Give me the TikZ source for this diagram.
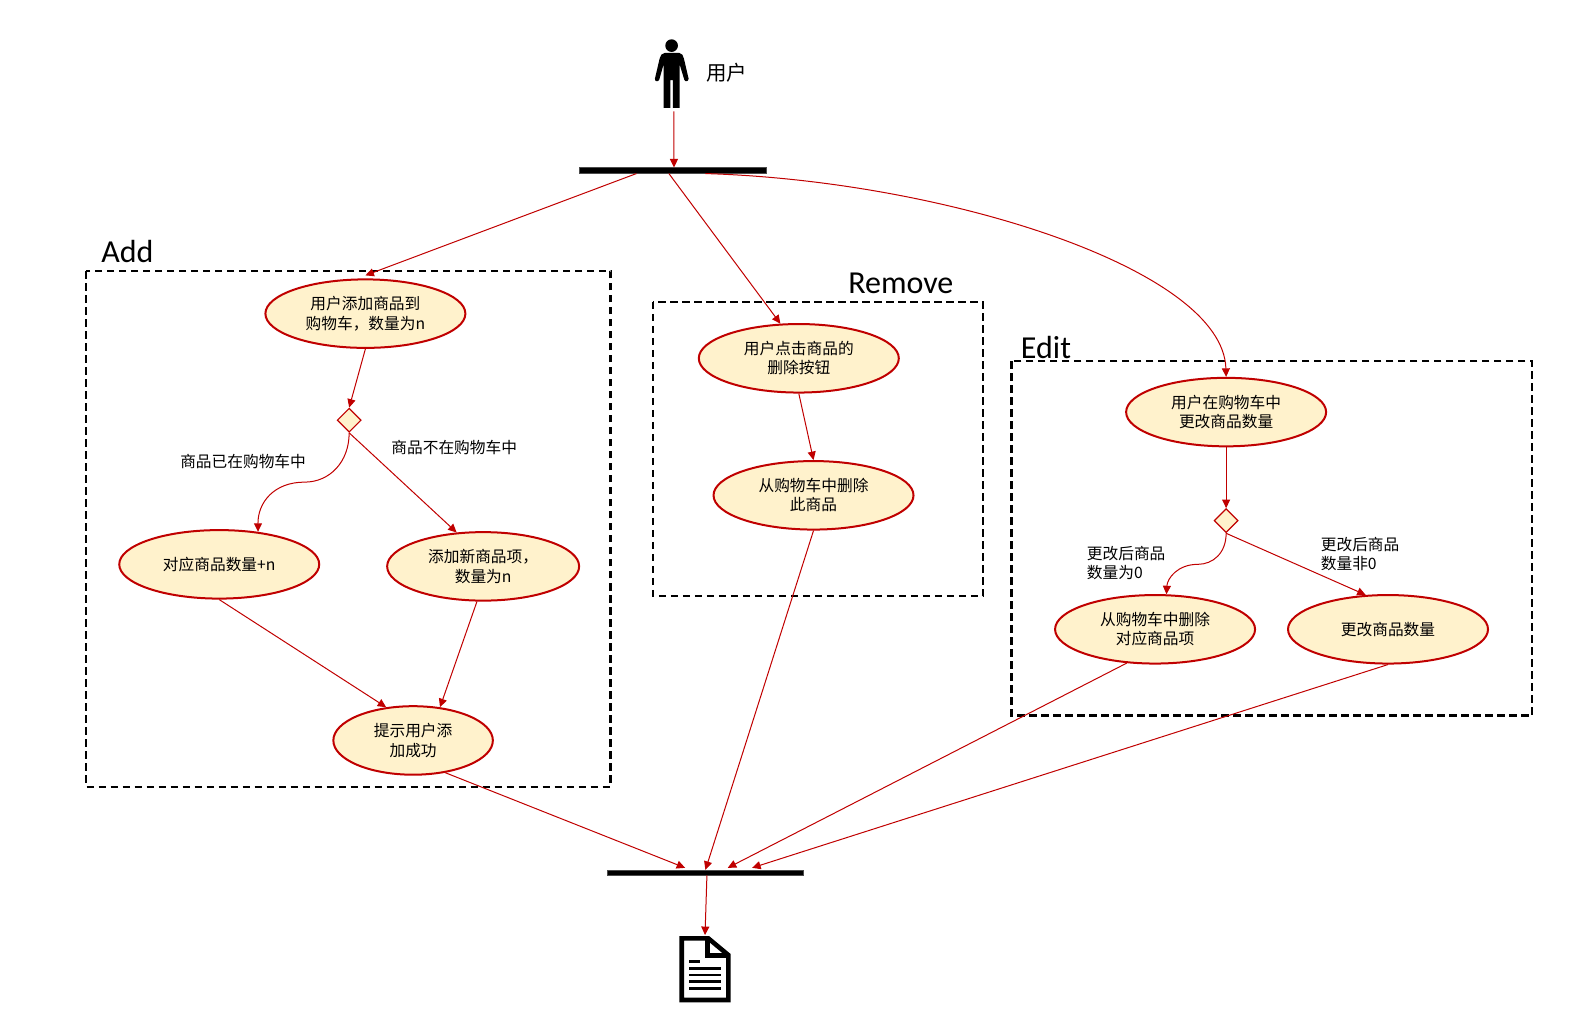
\documentclass[tikz,border=0pt]{standalone}
\usepackage{fontspec}
\newfontfamily\cjk{Noto Sans CJK SC}
\setsansfont{Carlito}
\usetikzlibrary{arrows.meta,shapes.geometric,calc}
\definecolor{linered}{HTML}{C00000}
\definecolor{cream}{HTML}{FFF2CC}
\tikzset{>={Triangle[length=8.5pt,width=8pt]},
	action/.style={ellipse,draw=linered,fill=cream,line width=2pt,inner sep=0pt,minimum width=200pt,minimum height=68.5pt,align=center,font=\cjk\fontsize{15.7}{19.3}\selectfont},
	decision/.style={diamond,draw=linered,fill=cream,line width=1.2pt,inner sep=0pt,minimum width=24pt,minimum height=24pt},
	bar/.style={rectangle,fill=black,draw=black!70,line width=0.3pt,inner sep=0pt,minimum height=5.5pt},
	guard/.style={align=left,inner sep=0pt,font=\cjk\fontsize{15.7}{19.3}\selectfont},
	title/.style={inner sep=0pt,font=\sffamily\fontsize{32}{36}\selectfont},
	region/.style={draw=black,line width=2.2pt,dash pattern=on 7.5pt off 4.5pt},
	flow/.style={->,draw=linered,line width=1pt}}
\begin{document}
\begin{tikzpicture}[x=1.015pt,y=-1.015pt]
		\useasboundingbox (0,0) rectangle (1566.5,1019.7);
		% regions
		\draw [region] (85,267) rectangle (601.5,775);
		\draw [region] (643.5,297.5) rectangle (968.5,587.5);
		\draw [region] (996.5,356) rectangle (1509.5,705);
		\node (Add) at (125.5,248) [title] {Add};
		\node (Remove) at (887.5,279) [title] {Remove};
		\node (Edit) at (1030.5,342) [title] {Edit};
		% user and document
		\node (user) at (662,72.5) [minimum width=34pt,minimum height=75pt,inner sep=0pt] {};
		\node (userlabel) at (716,71.5) [inner sep=0pt,font=\cjk\fontsize{20.5}{24}\selectfont] {用户};
		\begin{scope}[shift={(user.center)},scale=0.328]
			\fill (-1,-84) circle (19);
			\fill [line join=round] (-22,-62) -- (22,-62) .. controls (30,-62) and (34,-54) .. (36,-45) -- (50,15) .. controls (51,24) and (39,26) .. (37,18) -- (23,-28) -- (23,103) -- (3,103) -- (3,20) -- (-5,20) -- (-5,103) -- (-25,103) -- (-25,-28) -- (-38,18) .. controls (-41,26) and (-53,24) .. (-51,15) -- (-37,-45) .. controls (-35,-54) and (-30,-62) .. (-22,-62) -- cycle;
		\end{scope}
		\node (doc) at (694.6,954.7) [minimum width=52pt,minimum height=67.5pt,inner sep=0pt] {};
		\begin{scope}[shift={(doc.center)},scale=0.328]
			\draw [line width=4.6pt,miter limit=4] (-70,-92) -- (10,-92) -- (70,-42) -- (70,93) -- (-70,93) -- cycle;
			\draw [line width=4.6pt] (7,-92) -- (7,-40) -- (70,-40);
			\draw [line width=2.7pt] (-47,-22) -- (-15,-22);
			\foreach \y in {-2,18,38,58}
				\draw [line width=2.7pt] (-47,\y) -- (47,\y);
		\end{scope}
		% bars
		\node (barT) at (663,167.5) [bar,minimum width=187pt] {};
		\node (barB) at (694.5,859.5) [bar,minimum width=196.5pt] {};
		\coordinate (fork0) at (664,165);
		\coordinate (fork1) at (627,171);
		\coordinate (fork2) at (659,171);
		\coordinate (fork3) at (695,171);
		\coordinate (join1) at (675,855);
		\coordinate (join2) at (695,857);
		\coordinate (join3) at (717,855);
		\coordinate (join4) at (741,855);
		% add
		\node (add1) at (360,309) [action] {用户添加商品到\\购物车，数量为n};
		\node (dec1) at (344,414) [decision] {};
		\node (same) at (216,556) [action] {对应商品数量+n};
		\node (new) at (476,558) [action,minimum width=192pt] {添加新商品项，\\数量为n};
		\node (tip) at (407,729.5) [action,minimum width=159.5pt] {提示用户添\\加成功};
		\node (g1) at (239.5,455) [guard] {商品已在购物车中};
		\node (g2) at (447.5,441) [guard] {商品不在购物车中};
		% remove
		\node (rem1) at (787,353) [action] {用户点击商品的\\删除按钮};
		\node (rem2) at (801.5,488) [action] {从购物车中删除\\此商品};
		% edit
		\node (edit1) at (1208,406) [action] {用户在购物车中\\更改商品数量};
		\node (dec2) at (1208,513) [decision] {};
		\node (del) at (1138,620) [action] {从购物车中删除\\对应商品项};
		\node (chg) at (1367.5,620) [action] {更改商品数量};
		\node (g3) at (1109.5,555) [guard] {更改后商品\\数量为0};
		\node (g4) at (1340,546) [guard] {更改后商品\\数量非0};
		% flows
		\draw [flow] ([xshift=2pt]user.south) -- (fork0);
		\draw [flow] (fork1) -- ([yshift=3pt]add1.north);
		\draw [flow] (fork2) -- (rem1.118);
		\draw [flow] (fork3) .. controls (930,178) and (1205,265) .. (edit1.north);
		\draw [flow] (add1.south) -- (dec1.north);
		\draw [flow] (dec1.south) .. controls (344,455) and (325,475) .. (300,475) .. controls (270,475) and (254,495) .. (same.40);
		\draw [flow] (dec1.south) -- (new.128);
		\draw [flow] (same.south) -- (tip.129);
		\draw [flow] (new.-100) -- (tip.51);
		\draw [flow] (tip.-45) -- (join1);
		\draw [flow] (rem1.south) -- (rem2.north);
		\draw [flow] (rem2.south) -- (join2);
		\draw [flow] (edit1.south) -- (dec2.north);
		\draw [flow] (dec2.south) .. controls (1208,545) and (1195,556) .. (1180,556) .. controls (1160,556) and (1150,570) .. (del.72);
		\draw [flow] (dec2.south) -- (chg.123);
		\draw [flow] (del.-130) -- (join3);
		\draw [flow] (chg.south) -- (join4);
		\draw [flow] ([xshift=2pt]barB.south) -- (doc.north);
\end{tikzpicture}
\end{document}
